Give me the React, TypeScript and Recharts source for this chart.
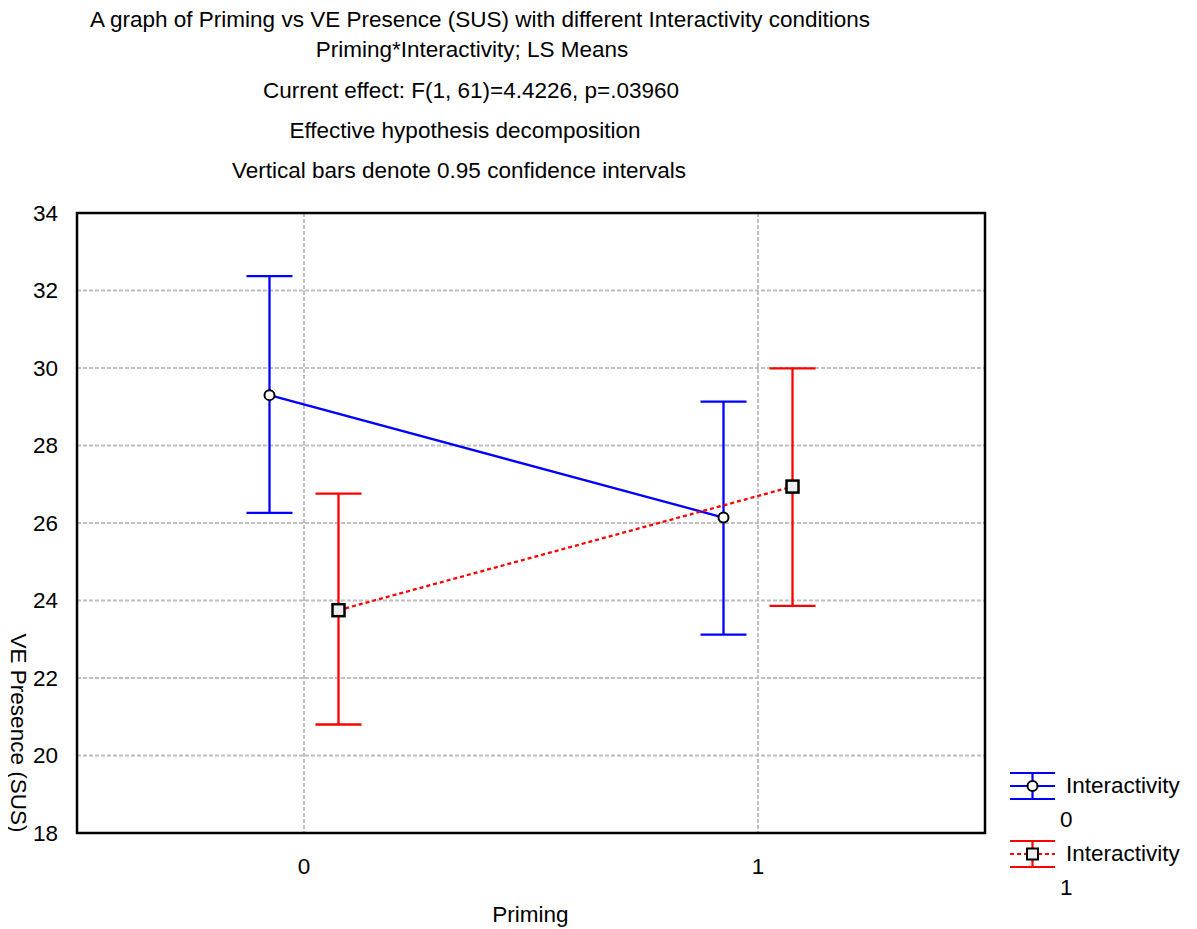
import { ComposedChart, Line, XAxis, YAxis, CartesianGrid, ErrorBar, ReferenceArea } from 'recharts'

const priming = [0, 1]
const meanInter0 = [29.3, 26.14]
const lowInter0 = [26.26, 23.12]
const highInter0 = [32.37, 29.13]
const meanInter1 = [23.75, 26.94]
const lowInter1 = [20.8, 23.86]
const highInter1 = [26.76, 29.99]
const yTicks = [18, 20, 22, 24, 26, 28, 30, 32, 34]
const xTicks = [0, 1]
const titleLines = [
  'A graph of Priming vs VE Presence (SUS) with different Interactivity conditions',
  'Priming*Interactivity; LS Means',
  'Current effect: F(1, 61)=4.4226, p=.03960',
  'Effective hypothesis decomposition',
  'Vertical bars denote 0.95 confidence intervals',
]
const seriesNames = ['Interactivity', 'Interactivity']
const seriesLevels = ['0', '1']

const FONT = '"Liberation Sans", Arial, sans-serif'
const FS = 22.5
const DODGE = 0.076

function build(mean: number[], low: number[], high: number[], shift: number) {
  return priming.map((p, i) => ({
    x: p + shift,
    y: mean[i],
    err: [mean[i] - low[i], high[i] - mean[i]],
  }))
}

const inter0 = build(meanInter0, lowInter0, highInter0, -DODGE)
const inter1 = build(meanInter1, lowInter1, highInter1, DODGE)

// centre x and centre y of each title line (wrapper coords)
const titleCx = [472, 464, 463, 457, 451]
const titleCy = [12, 42, 83, 123, 163]

function SquareDot(props: any) {
  const { cx, cy } = props
  if (cx == null || cy == null) return null
  return <rect x={cx - 6} y={cy - 6} width={12} height={12} fill="#eeeeee" stroke="#000" strokeWidth={2.5} />
}

function LegendBox() {
  return (
    <div style={{ position: 'absolute', left: 1000, top: 762, width: 190, fontSize: FS, color: '#000' }}>
      {[0, 1].map((k) => {
        const color = k === 0 ? '#0000ff' : '#ff0000'
        return (
          <div key={k} style={{ position: 'relative', height: 68 }}>
            <svg width={50} height={32} style={{ position: 'absolute', left: 0, top: 0 }}>
              <line x1={2} x2={47} y1={3} y2={3} stroke={color} strokeWidth={2.2} />
              <line x1={2} x2={47} y1={29} y2={29} stroke={color} strokeWidth={2.2} />
              <line x1={24.5} x2={24.5} y1={3} y2={29} stroke={color} strokeWidth={2.2} />
              <line x1={2} x2={47} y1={16} y2={16} stroke={color} strokeWidth={2.2} strokeDasharray={k === 0 ? undefined : '4 3'} />
              {k === 0 ? (
                <circle cx={24.5} cy={16} r={5} fill="#fff" stroke="#000" strokeWidth={2} />
              ) : (
                <rect x={19} y={10.5} width={11} height={11} fill="#eeeeee" stroke="#000" strokeWidth={2} />
              )}
            </svg>
            <div style={{ position: 'absolute', left: 58, top: 3, lineHeight: '26px' }}>{seriesNames[k]}</div>
            <div style={{ position: 'absolute', left: 52, top: 37, lineHeight: '26px' }}>{seriesLevels[k]}</div>
          </div>
        )
      })}
    </div>
  )
}

export default function App() {
  return (
    <div style={{ position: 'relative', width: 1181, height: 921, fontFamily: FONT, background: '#fff' }}>
      {titleLines.map((t, i) => (
        <div
          key={i}
          style={{
            position: 'absolute',
            left: titleCx[i] - 500,
            width: 1000,
            top: titleCy[i] - 13,
            lineHeight: '26px',
            textAlign: 'center',
            fontSize: FS,
            whiteSpace: 'nowrap',
          }}
        >
          {t}
        </div>
      ))}
      <ComposedChart
        width={1181}
        height={913}
        margin={{ top: 205, right: 204, bottom: 48, left: 0 }}
        style={{ position: 'absolute', left: 0, top: 0 }}
      >
        <CartesianGrid stroke="#c0c0c0" strokeWidth={2} strokeDasharray="4 2" />
        <XAxis
          type="number"
          dataKey="x"
          domain={[-0.5, 1.5]}
          ticks={xTicks}
          allowDataOverflow
          tickLine={false}
          axisLine={false}
          tickMargin={19}
          tick={{ fontSize: FS, fill: '#000', fontFamily: FONT }}
          height={40}
        />
        <YAxis
          type="number"
          domain={[18, 34]}
          ticks={yTicks}
          allowDataOverflow
          tickLine={false}
          axisLine={false}
          tickMargin={13}
          tick={{ fontSize: FS, fill: '#000', fontFamily: FONT }}
          width={69}
        />
        <ReferenceArea x1={-0.5} x2={1.5} y1={18} y2={34} fill="none" stroke="#000" strokeWidth={2.5} fillOpacity={0} />
        <Line
          data={inter0}
          dataKey="y"
          stroke="#0000ff"
          strokeWidth={2.3}
          isAnimationActive={false}
          dot={{ r: 5, fill: '#fff', stroke: '#000', strokeWidth: 2 }}
          activeDot={false}
          legendType="none"
        >
          <ErrorBar dataKey="err" width={23} stroke="#0000ff" strokeWidth={2.3} direction="y" isAnimationActive={false} />
        </Line>
        <Line
          data={inter1}
          dataKey="y"
          stroke="#ff0000"
          strokeWidth={2.3}
          strokeDasharray="4 3"
          isAnimationActive={false}
          dot={<SquareDot />}
          activeDot={false}
          legendType="none"
        >
          <ErrorBar dataKey="err" width={23} stroke="#ff0000" strokeWidth={2.3} direction="y" isAnimationActive={false} />
        </Line>
      </ComposedChart>
      <LegendBox />
      <div
        style={{
          position: 'absolute',
          left: 10,
          top: 725,
          transform: 'translate(-50%, -50%) rotate(90deg)',
          fontSize: FS,
          whiteSpace: 'nowrap',
        }}
      >
        VE Presence (SUS)
      </div>
      <div style={{ position: 'absolute', left: 0, width: 1045, top: 894, lineHeight: '26px', textAlign: 'center', fontSize: FS }}>
        Priming
      </div>
    </div>
  )
}
